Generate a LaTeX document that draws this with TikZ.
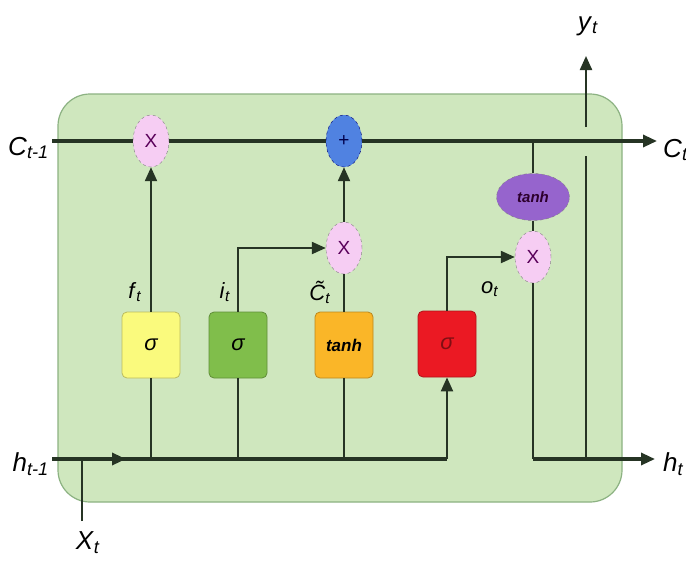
\documentclass[tikz,border=0pt]{standalone}
\usepackage{fontspec}
\setmainfont{Liberation Sans}
\usepackage{xcolor}
\usepackage{tikz}
\usetikzlibrary{shapes.geometric,arrows.meta,positioning,calc}

\definecolor{cellgreen}{RGB}{207,231,190}
\definecolor{celledge}{RGB}{140,178,130}
\definecolor{wirecol}{RGB}{38,52,36}
\definecolor{gateyellow}{RGB}{250,250,125}
\definecolor{gategreen}{RGB}{128,190,75}
\definecolor{gateorange}{RGB}{250,182,40}
\definecolor{gatered}{RGB}{235,25,35}
\definecolor{oppink}{RGB}{246,205,243}
\definecolor{opblue}{RGB}{80,130,225}
\definecolor{oppurple}{RGB}{150,100,205}

\newcommand{\lbl}[2]{\textit{#1}\textsubscript{\textit{#2}}}

\begin{document}
\begin{tikzpicture}[x=1pt,y=-1pt,
    wire/.style={draw=wirecol,line width=2.2pt},
    bus/.style={draw=wirecol,line width=3.2pt},
    tip/.style={-{Triangle[length=14pt,width=12pt]}},
    gate/.style={draw=#1!75!black,fill=#1,rounded corners=5pt,minimum width=58pt,
      minimum height=66pt,line width=0.8pt,font=\itshape\fontsize{22}{22}\selectfont},
    op/.style={ellipse,draw=gray,dashed,fill=oppink,minimum width=36pt,minimum height=52pt,
      inner sep=0pt,font=\fontsize{19}{19}\selectfont,text=violet!70!black},
    lab/.style={font=\fontsize{26}{26}\selectfont,inner sep=1pt},
    small lab/.style={font=\fontsize{22}{22}\selectfont,inner sep=1pt}]
  \useasboundingbox (0,0) rectangle (686,566);
  \fill[white] (0,0) rectangle (686,566);
  % cell body
  \draw[celledge,fill=cellgreen,line width=1.2pt,rounded corners=32pt] (58,94) rectangle (622,502);

  % gates
  \node[gate=gateyellow] (gf) at (151,345) {σ};
  \node[gate=gategreen] (gi) at (238,345) {σ};
  \node[gate=gateorange,font=\itshape\bfseries\fontsize{17}{17}\selectfont] (gc) at (344,345) {tanh};
  \node[gate=gatered,text=gatered!55!black] (go) at (447,344) {σ};

  % pointwise operations
  \node[op] (mf) at (151,141) {X};
  \node[op,fill=opblue,draw=blue!45!black,text=blue!30!black] (add) at (344,141) {+};
  \node[op] (mi) at (344,248) {X};
  \node[op] (mo) at (533,257) {X};
  \node[ellipse,draw=gray,dashed,fill=oppurple,minimum width=73pt,minimum height=47pt,
    inner sep=0pt,font=\itshape\bfseries\fontsize{15}{15}\selectfont,text=violet!35!black] (tc) at (533,197) {tanh};

  % fixed points
  \coordinate (cin) at (52,141);
  \coordinate (cout) at (657,141);
  \coordinate (ctap) at (533,141);
  \coordinate (hin) at (52,459);
  \coordinate (hmid) at (126,459);
  \coordinate (hbend) at (533,459);
  \coordinate (hout) at (655,459);
  \coordinate (ybase) at (586,459);
  \coordinate (yjoin) at (586,156);
  \coordinate (ygap) at (586,127);
  \coordinate (ytop) at (586,56);
  \coordinate (xin) at (82,521);
  \coordinate (xjoin) at (82,459);

  % cell state
  \draw[bus] (cin) -- (mf.west);
  \draw[bus] (mf.east) -- (add.west);
  \draw[bus,tip] (add.east) -- (cout);

  % hidden state in
  \draw[bus,tip] (hin) -- (hmid);
  \draw[bus] (hin) -- (go.south |- hin);
  \draw[wire,tip] (go.south |- hin) -- (go.south);
  \draw[wire] (xin) -- (xjoin);
  \draw[wire] (gf.south) -- (gf.south |- hin);
  \draw[wire] (gi.south) -- (gi.south |- hin);
  \draw[wire] (gc.south) -- (gc.south |- hin);

  % gates to operations
  \draw[wire,tip] (gf.north) -- (mf.south);
  \draw[wire,tip] (gi.north) |- (mi.west);
  \draw[wire] (gc.north) -- (mi.south);
  \draw[wire,tip] (mi.north) -- (add.south);
  \draw[wire,tip] (go.north) |- (mo.west);

  % output
  \draw[wire] (ctap) -- (tc.north);
  \draw[wire] (tc.south) -- (mo.north);
  \draw[wire] (mo.south) -- (hbend);
  \draw[bus,tip] (hbend) -- (hout);
  \draw[wire] (ybase) -- (yjoin);
  \draw[wire,tip] (ygap) -- (ytop);

  % labels
  \node[lab,anchor=east] (lcin) at (50,148) {\lbl{C}{t-1}};
  \node[lab,anchor=west] (lcout) at (662,150) {\lbl{C}{t}};
  \node[lab,anchor=east] (lhin) at (50,464) {\lbl{h}{t-1}};
  \node[lab,anchor=west] (lhout) at (662,464) {\lbl{h}{t}};
  \node[lab] (ly) at (588,26) {\lbl{y}{t}};
  \node[lab] (lx) at (88,543) {\lbl{X}{t}};
  \node[small lab] (lf) at (135,292) {\lbl{f}{t}};
  \node[small lab] (li) at (225,292) {\lbl{i}{t}};
  \node[small lab] (lc) at (320,292) {\lbl{\~{C}}{t}};
  \node[small lab] (lo) at (490,289) {\lbl{o}{t}};
\end{tikzpicture}
\end{document}
